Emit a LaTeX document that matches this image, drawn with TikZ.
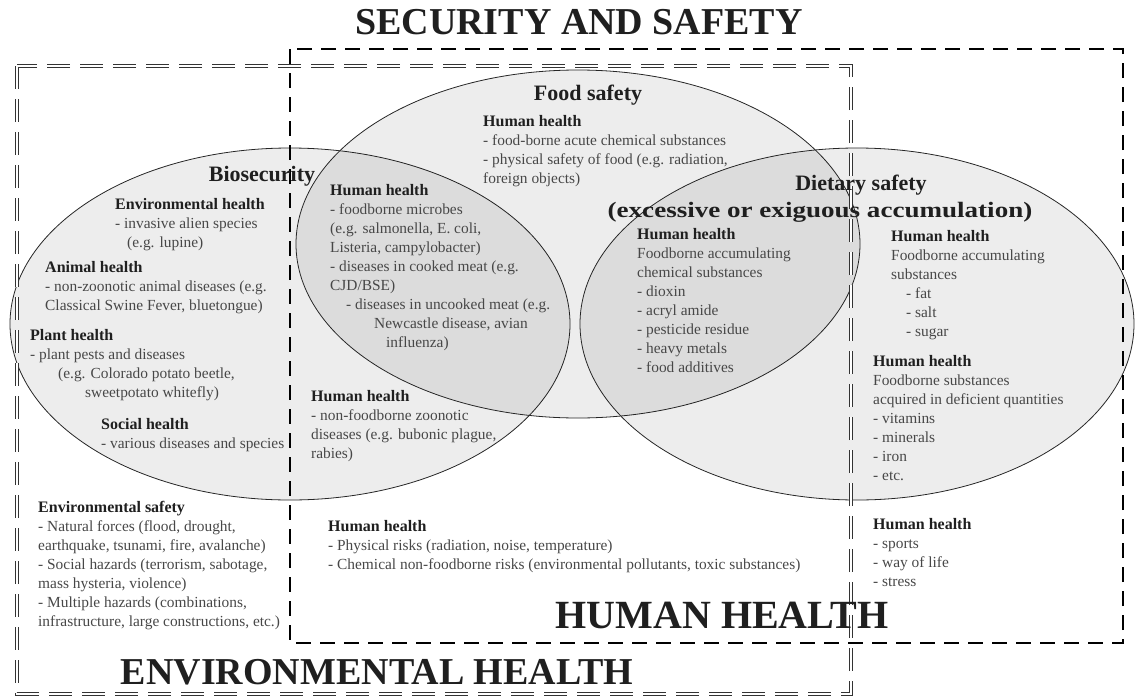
\documentclass[tikz,border=0pt]{standalone}
\usepackage{fontspec}
\setmainfont{Liberation Serif}
\usepackage{tikz}

\newcommand{\blockhead}[1]{{\fontsize{16}{19}\selectfont\color{black!88}\bfseries #1}}

\tikzset{
  zone/.style={draw=black!85, line width=0.8pt, fill=black, fill opacity=0.07},
  envframe/.style={draw=black!80, line width=0.7pt, double, double distance=2.2pt,
    dash pattern=on 23pt off 10pt},
  humframe/.style={draw=black, line width=2.4pt, dash pattern=on 15pt off 9pt},
  bigtitle/.style={inner sep=0pt, text=black!88, font=\fontsize{38}{38}\selectfont\bfseries},
  areatitle/.style={inner sep=0pt, text=black!88, font=\fontsize{22}{27}\selectfont\bfseries},
  txtblock/.style={anchor=north west, align=left, inner sep=0pt, text=black!72,
    font=\fontsize{15.4}{19}\selectfont}
}

\begin{document}
\begin{tikzpicture}[x=1pt,y=-1pt]
    \useasboundingbox (0,0) rectangle (1136,699);

    % the three fields
    \draw[zone] (290,324) ellipse [x radius=280pt, y radius=176pt];
    \draw[zone] (578,244) ellipse [x radius=282pt, y radius=174pt];
    \draw[zone] (857,324) ellipse [x radius=277pt, y radius=176pt];

    % the two health frames
    \draw[envframe] (17,66) rectangle (851,694);
    \draw[humframe] (290,49) rectangle (1123,643);

    \node[bigtitle] (security) at (579,22) {SECURITY AND SAFETY};
    \node[bigtitle, font=\fontsize{40}{40}\selectfont\bfseries] (humanhealth) at (722,615) {HUMAN HEALTH};
    \node[bigtitle] (envhealth) at (377,672) {ENVIRONMENTAL HEALTH};

    \node[areatitle] (biosecurity) at (262,176) {Biosecurity};
    \node[areatitle] (foodsafety) at (588,95) {Food safety};
    \node[areatitle] (dietary) at (861,185) {Dietary safety};
    \node[areatitle, xscale=1.23] (dietarynote) at (820,212) {(excessive or exiguous accumulation)};

    % biosecurity
    \node[txtblock] (envhealthbio) at (115,198) {\blockhead{Environmental health}\\
        - invasive alien species\\
        \hspace*{12pt}(e.g. lupine)};
    \node[txtblock] (animal) at (45,261) {\blockhead{Animal health}\\
        - non-zoonotic animal diseases (e.g.\\
        Classical Swine Fever, bluetongue)};
    \node[txtblock] (plant) at (30,329) {\blockhead{Plant health}\\
        - plant pests and diseases\\
        \hspace*{28pt}(e.g. Colorado potato beetle,\\
        \hspace*{55pt}sweetpotato whitefly)};
    \node[txtblock] (social) at (101,418) {\blockhead{Social health}\\
        - various diseases and species};
    \node[txtblock] (zoonotic) at (311,390) {\blockhead{Human health}\\
        - non-foodborne zoonotic\\
        diseases (e.g. bubonic plague,\\
        rabies)};

    % biosecurity and food safety
    \node[txtblock] (microbes) at (330,184) {\blockhead{Human health}\\
        - foodborne microbes\\
        (e.g. salmonella, E. coli,\\
        Listeria, campylobacter)\\
        - diseases in cooked meat (e.g.\\
        CJD/BSE)\\
        \hspace*{16pt}- diseases in uncooked meat (e.g.\\
        \hspace*{44pt}Newcastle disease, avian\\
        \hspace*{56pt}influenza)};

    % food safety
    \node[txtblock] (acute) at (483,115) {\blockhead{Human health}\\
        - food-borne acute chemical substances\\
        - physical safety of food (e.g. radiation,\\
        foreign objects)};

    % food safety and dietary safety
    \node[txtblock] (chemacc) at (637,228) {\blockhead{Human health}\\
        Foodborne accumulating\\
        chemical substances\\
        - dioxin\\
        - acryl amide\\
        - pesticide residue\\
        - heavy metals\\
        - food additives};

    % dietary safety
    \node[txtblock] (accum) at (891,230) {\blockhead{Human health}\\
        Foodborne accumulating\\
        substances\\
        \hspace*{15pt}- fat\\
        \hspace*{15pt}- salt\\
        \hspace*{15pt}- sugar};
    \node[txtblock] (deficient) at (873,355) {\blockhead{Human health}\\
        Foodborne substances\\
        acquired in deficient quantities\\
        - vitamins\\
        - minerals\\
        - iron\\
        - etc.};

    % outside the fields
    \node[txtblock] (envsafety) at (38,501) {\blockhead{Environmental safety}\\
        - Natural forces (flood, drought,\\
        earthquake, tsunami, fire, avalanche)\\
        - Social hazards (terrorism, sabotage,\\
        mass hysteria, violence)\\
        - Multiple hazards (combinations,\\
        infrastructure, large constructions, etc.)};
    \node[txtblock] (physical) at (328,520) {\blockhead{Human health}\\
        - Physical risks (radiation, noise, temperature)\\
        - Chemical non-foodborne risks (environmental pollutants, toxic substances)};
    \node[txtblock] (lifestyle) at (873,518) {\blockhead{Human health}\\
        - sports\\
        - way of life\\
        - stress};
\end{tikzpicture}
\end{document}
